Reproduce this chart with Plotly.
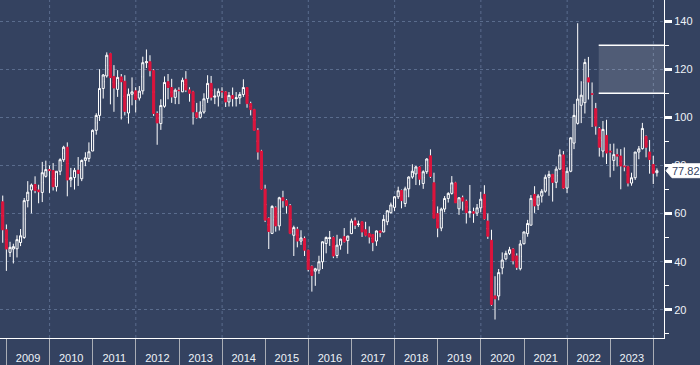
import pandas as pd
import plotly.graph_objects as go

# ---------------- data (monthly OHLC, month-end stamps) ----------------
months = pd.date_range("2008-11-30", "2024-01-31", freq="ME")

opens = [
    64.9, 53.3,                                                              # 2008 Nov-Dec
    43.9, 45.3, 45.4, 48.0, 50.1, 65.4, 69.8, 72.1, 69.8, 68.8, 75.5, 78.3,  # 2009
    77.9, 71.2, 77.6, 82.4, 87.6, 74.0, 75.0, 78.0, 74.5, 82.1, 82.9, 86.0,  # 2010
    94.6, 100.8, 112.0, 117.2, 126.5, 117.0, 111.6, 116.8, 115.0, 101.8, 109.6, 111.0,  # 2011
    108.0, 111.0, 122.7, 123.1, 119.4, 101.6, 97.4, 104.6, 114.8, 112.4, 108.3, 111.3,  # 2012
    110.6, 115.8, 111.4, 110.6, 101.9, 100.0, 102.2, 107.8, 114.1, 108.4, 108.8, 110.8,  # 2013
    110.6, 106.4, 109.1, 107.8, 108.1, 109.5, 112.4, 105.7, 103.3, 94.6, 86.0, 70.2,    # 2014
    58.1, 51.8, 62.4, 54.9, 66.6, 65.4, 63.3, 51.0, 53.5, 48.6, 49.7, 44.8,  # 2015
    38.1, 36.1, 36.5, 40.0, 47.6, 49.7, 50.1, 42.6, 46.9, 50.4, 48.8, 51.7,  # 2016
    57.0, 55.5, 56.6, 53.3, 51.7, 51.3, 48.6, 52.8, 52.4, 56.6, 60.4, 62.6,  # 2017
    67.0, 69.6, 64.2, 70.3, 75.2, 76.5, 79.4, 72.5, 77.4, 84.0, 72.8, 60.0,  # 2018
    54.0, 61.9, 66.3, 68.4, 72.8, 62.0, 66.6, 65.2, 60.4, 60.8, 60.2, 62.4,  # 2019
    68.0, 56.9, 48.9, 25.8, 25.8, 37.4, 41.2, 43.5, 45.3, 42.4, 37.1, 47.5,  # 2020
    51.7, 55.2, 68.0, 63.5, 67.3, 69.3, 75.1, 76.3, 73.0, 78.5, 84.4, 70.6,  # 2021
    77.6, 89.3, 97.5, 105.0, 106.1, 116.4, 109.8, 103.6, 95.3, 86.0, 92.5, 86.0,  # 2022
    82.1, 84.5, 83.9, 79.8, 79.5, 72.7, 74.9, 85.6, 87.0, 92.1, 85.6, 80.4,  # 2023
    77.0,                                                                    # 2024 Jan
]
highs = [
    67.5, 55.5,
    48.3, 47.5, 51.0, 53.6, 66.5, 73.5, 72.5, 75.5, 72.0, 81.5, 82.0, 80.0,
    81.0, 77.5, 83.0, 88.2, 89.6, 79.0, 79.0, 83.5, 82.5, 85.5, 89.6, 95.0,
    101.7, 120.0, 118.0, 127.0, 126.8, 121.7, 119.6, 118.0, 117.5, 112.0, 116.6, 112.5,
    113.0, 125.2, 128.2, 125.8, 120.0, 102.5, 107.5, 117.0, 118.0, 116.0, 112.0, 112.5,
    116.5, 119.2, 112.5, 111.0, 106.0, 106.7, 110.0, 117.5, 117.2, 112.0, 112.0, 112.5,
    110.9, 110.5, 112.4, 110.5, 110.5, 115.8, 112.5, 106.5, 103.5, 95.5, 86.5, 72.0,
    58.5, 63.5, 63.0, 67.0, 69.5, 66.0, 64.0, 55.0, 54.5, 53.1, 50.5, 45.0,
    38.5, 37.5, 42.5, 48.5, 50.5, 52.8, 50.5, 51.2, 49.5, 54.0, 50.7, 57.9,
    58.4, 57.1, 56.8, 56.6, 54.7, 51.5, 53.0, 53.0, 59.5, 61.5, 64.6, 67.3,
    71.2, 70.0, 71.2, 75.5, 80.5, 79.8, 79.7, 78.0, 83.0, 86.7, 77.0, 63.0,
    62.5, 67.3, 68.9, 75.6, 73.2, 66.8, 67.5, 65.8, 71.9, 62.5, 64.0, 69.0,
    71.8, 60.0, 53.3, 34.0, 37.0, 43.9, 44.6, 46.2, 45.7, 43.5, 49.0, 52.5,
    57.4, 67.7, 71.4, 68.1, 70.2, 76.2, 77.8, 76.5, 79.6, 86.7, 86.0, 79.2,
    91.7, 105.6, 139.1, 115.0, 124.3, 125.1, 114.5, 106.0, 96.0, 98.5, 99.0, 89.0,
    89.1, 87.0, 86.8, 87.5, 79.9, 77.0, 85.6, 88.1, 97.7, 92.5, 90.6, 84.0,
    78.8,
]
lows = [
    47.9, 36.2,
    42.0, 39.3, 41.8, 46.5, 49.5, 62.6, 60.1, 68.5, 64.3, 64.8, 75.0, 68.6,
    69.6, 69.2, 76.0, 81.5, 67.2, 71.0, 70.0, 71.5, 73.5, 79.7, 81.5, 86.0,
    92.8, 98.5, 107.8, 116.5, 105.4, 102.3, 108.5, 99.1, 100.8, 97.4, 105.0, 102.0,
    107.0, 109.5, 120.5, 117.0, 100.6, 88.6, 94.8, 104.0, 107.5, 106.0, 105.5, 105.5,
    110.5, 110.5, 106.5, 97.0, 99.5, 99.5, 101.5, 106.0, 107.0, 105.5, 104.5, 108.0,
    104.3, 104.5, 104.5, 104.5, 105.5, 108.5, 104.0, 100.8, 94.5, 82.4, 70.0, 56.5,
    45.3, 51.5, 52.5, 53.0, 62.5, 60.0, 51.5, 42.4, 46.0, 47.0, 42.4, 36.0,
    27.6, 30.0, 35.0, 37.0, 43.5, 46.6, 41.5, 41.5, 45.0, 48.0, 43.3, 51.5,
    53.6, 54.5, 50.3, 50.6, 47.6, 44.4, 46.6, 50.2, 52.2, 55.2, 60.0, 61.1,
    66.1, 62.2, 62.8, 66.8, 74.5, 71.9, 71.8, 70.3, 76.5, 74.8, 58.4, 50.2,
    52.7, 60.6, 64.6, 67.9, 64.5, 59.5, 61.3, 55.9, 58.3, 56.2, 59.0, 60.5,
    57.5, 49.5, 21.7, 16.0, 24.0, 34.8, 40.6, 42.8, 38.9, 36.6, 36.4, 47.2,
    50.4, 55.2, 60.3, 61.5, 64.6, 68.7, 67.4, 65.0, 70.6, 78.3, 70.2, 68.6,
    77.2, 86.8, 97.0, 97.6, 101.6, 107.4, 96.0, 92.8, 83.7, 83.4, 80.6, 75.1,
    77.8, 79.6, 70.1, 77.6, 71.3, 71.6, 74.0, 82.6, 86.6, 83.4, 76.6, 72.3,
    75.4,
]
closes = [
    53.3, 45.3,
    46.0, 46.3, 49.2, 50.8, 65.4, 68.9, 71.9, 69.6, 69.1, 77.0, 78.3, 77.9,
    71.2, 77.6, 82.4, 87.6, 74.0, 75.0, 78.0, 76.7, 82.1, 83.2, 85.7, 94.6,
    100.8, 112.0, 117.6, 125.8, 116.5, 112.2, 116.6, 114.8, 102.5, 109.6, 110.6, 107.4,
    110.9, 122.7, 123.1, 119.4, 101.6, 97.7, 104.9, 114.5, 112.4, 108.5, 111.3, 111.1,
    115.4, 111.4, 110.0, 102.3, 100.0, 102.2, 107.7, 114.1, 108.4, 108.8, 110.8, 110.6,
    106.4, 109.1, 107.8, 108.1, 109.5, 112.4, 105.7, 103.2, 94.6, 85.6, 70.2, 57.3,
    52.6, 63.0, 54.9, 66.6, 65.4, 63.3, 51.8, 54.2, 48.6, 49.9, 44.8, 36.8,
    34.3, 37.1, 40.0, 48.3, 50.1, 49.9, 42.4, 46.9, 49.4, 48.3, 50.7, 56.9,
    55.2, 55.6, 52.4, 51.0, 50.3, 48.1, 52.8, 52.1, 57.6, 61.2, 63.6, 67.0,
    69.5, 65.4, 70.3, 75.2, 77.6, 79.4, 74.3, 77.4, 82.7, 75.5, 58.1, 54.0,
    61.9, 66.3, 68.4, 72.8, 64.5, 66.6, 65.2, 60.4, 60.8, 60.2, 62.4, 66.0,
    57.8, 50.6, 22.2, 24.6, 35.5, 40.7, 43.5, 45.0, 40.4, 37.7, 47.4, 52.4,
    55.9, 66.3, 63.2, 67.3, 69.3, 75.1, 76.3, 73.0, 78.5, 84.4, 70.6, 77.6,
    91.5, 100.8, 107.6, 109.2, 122.8, 114.7, 109.6, 96.4, 87.6, 95.0, 85.2, 85.6,
    84.5, 83.9, 79.8, 79.5, 72.7, 74.9, 85.6, 86.9, 95.4, 87.6, 82.5, 76.8,
    77.82,
]

target_start = "2022-09-25"   # shaded target zone
target_low, target_high = 110, 130
x_range = ["2008-11-07", "2024-03-31"]
y_range = [8.33, 148.75]

# ---------------- style ----------------
BG = "#344260"
GRID = "#5a6c8d"
RED = "#dc143c"
TXT = "#eef2f8"

body_hi = [max(o, c) for o, c in zip(opens, closes)]
body_lo = [min(o, c) for o, c in zip(opens, closes)]
mids = [(o + c) / 2 for o, c in zip(opens, closes)]

fig = go.Figure()
# wicks (white for every candle)
fig.add_trace(go.Candlestick(
    x=months, open=mids, close=mids, high=highs, low=lows,
    increasing=dict(line=dict(color="white", width=1), fillcolor="white"),
    decreasing=dict(line=dict(color="white", width=1), fillcolor="white"),
    hoverinfo="skip", showlegend=False,
))
# bodies
fig.add_trace(go.Candlestick(
    x=months, open=opens, close=closes, high=body_hi, low=body_lo,
    increasing=dict(line=dict(color="white", width=1), fillcolor=BG),
    decreasing=dict(line=dict(color=RED, width=1), fillcolor=RED),
    showlegend=False,
))

shapes = []
# vertical dashed gridlines every two years
for yr in range(2010, 2025, 2):
    shapes.append(dict(type="line", xref="x", yref="paper", x0=f"{yr}-01-01", x1=f"{yr}-01-01",
                       y0=0, y1=1, line=dict(color=GRID, width=1, dash="3px,3px"), layer="below"))
# target zone
shapes.append(dict(type="rect", xref="x", yref="y", x0=target_start, x1="2024-06-30",
                   y0=target_low, y1=target_high, fillcolor="rgba(255,255,255,0.14)",
                   line=dict(width=0), layer="above"))
for lvl in (target_low, target_high):
    shapes.append(dict(type="line", xref="x", yref="y", x0=target_start, x1="2024-06-30",
                       y0=lvl, y1=lvl, line=dict(color="white", width=1.5), layer="above"))

# last price tag
last = closes[-1]
h = 2.9
xt, xb, xe = 1.003, 1.012, 1.06
shapes.append(dict(type="path", xref="paper", yref="y",
                   path=f"M {xt},{last} L {xb},{last + h} L {xe},{last + h} L {xe},{last - h} L {xb},{last - h} Z",
                   fillcolor="white", line=dict(color="white", width=1), layer="above"))

fig.update_layout(
    width=700, height=365,
    margin=dict(l=0, r=36, t=0, b=27),
    paper_bgcolor=BG, plot_bgcolor=BG,
    font=dict(family="Liberation Sans, Arial, sans-serif", size=11, color=TXT),
    shapes=shapes,
    boxgap=0.1,
    showlegend=False,
    annotations=[dict(xref="paper", yref="y", x=1.0095, y=last, xanchor="left", yanchor="middle",
                      text=f"{last:.2f}", showarrow=False,
                      font=dict(size=11, color=BG, family="Liberation Sans, Arial, sans-serif"))],
)
fig.update_xaxes(
    type="date", range=x_range, rangeslider_visible=False,
    showgrid=False, zeroline=False,
    showline=True, linecolor="white", linewidth=1,
    ticks="outside", ticklen=27, tickwidth=1, tickcolor="#a9adb5",
    dtick="M12", tick0="2009-01-01", tickformat="%Y", ticklabelmode="period",
    ticklabelstandoff=-17, tickfont=dict(size=11, color=TXT),
)
fig.update_yaxes(
    side="right", range=y_range, dtick=20, tick0=0,
    showgrid=True, gridcolor=GRID, gridwidth=1, griddash="3px,3px", zeroline=False,
    showline=True, linecolor="white", linewidth=1,
    ticks="outside", ticklen=7, tickwidth=3, tickcolor="white",
    minor=dict(dtick=10, ticks="outside", ticklen=4, tickwidth=1, tickcolor="white"),
    tickfont=dict(size=11, color=TXT),
)

fig.write_html("out.html", config={"displayModeBar": False},
               post_script="document.body.style.margin='0';document.body.style.padding='0';")
